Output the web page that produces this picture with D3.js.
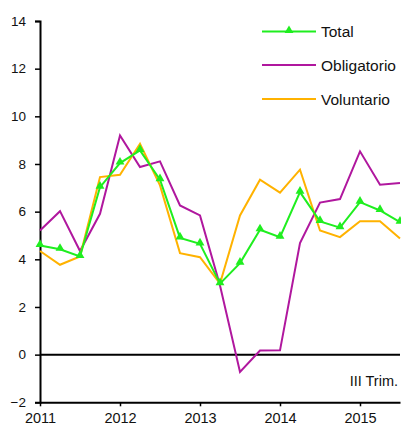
<!DOCTYPE html>
<html>
<head>
<meta charset="utf-8">
<script src="https://cdn.jsdelivr.net/npm/d3@7"></script>
<style>
  html, body { margin: 0; padding: 0; background: #fff; }
  svg { display: block; font-family: "Liberation Sans", Arial, sans-serif; }
</style>
</head>
<body>
<svg id="chart" width="401" height="428"></svg>
<script>
// ---- data ----
const quarters = d3.range(19).map(i => 2011 + i * 0.25);
const total = [4.58, 4.42, 4.12, 7.03, 8.04, 8.57, 7.34, 4.9, 4.65, 2.98, 3.84, 5.24, 4.93, 6.82, 5.59, 5.33, 6.4, 6.05, 5.56];
const obligatorio = [5.21, 6.02, 4.35, 5.91, 9.2, 7.87, 8.11, 6.26, 5.84, 2.9, -0.73, 0.17, 0.18, 4.68, 6.38, 6.53, 8.53, 7.13, 7.2];
const voluntario = [4.35, 3.77, 4.12, 7.45, 7.55, 8.85, 7.1, 4.26, 4.09, 2.98, 5.84, 7.34, 6.8, 7.76, 5.21, 4.93, 5.6, 5.6, 4.87];
const yTicks = [-2, 0, 2, 4, 6, 8, 10, 12, 14];
const yearTicks = [2011, 2012, 2013, 2014, 2015];
const seriesNames = ["Total", "Obligatorio", "Voluntario"];
const note = "III Trim.";

const colors = { Total: "#1fee1f", Obligatorio: "#b0179e", Voluntario: "#ffb200" };
const series = [
  { name: "Obligatorio", values: obligatorio },
  { name: "Voluntario", values: voluntario },
  { name: "Total", values: total }
];

const svg = d3.select("#chart");
const x = d3.scaleLinear().domain([2011, 2015.5]).range([40, 400]);
const y = d3.scaleLinear().domain([-2, 14]).range([402.3, 21]);

// y axis
const yAxis = d3.axisLeft(y).tickValues(yTicks).tickSize(5).tickPadding(9).tickFormat(d3.format("d"));
const gy = svg.append("g").attr("transform", `translate(${x(2011)},0)`).call(yAxis);
gy.select(".domain").attr("stroke", "#000").attr("stroke-width", 2);
gy.selectAll(".tick line").attr("stroke", "#000").attr("stroke-width", 1.5);
gy.selectAll(".tick text").attr("font-size", 13.5).attr("fill", "#111");

// x axis
const xAxis = d3.axisBottom(x).tickValues(yearTicks).tickSize(4).tickSizeOuter(0).tickPadding(6).tickFormat(d3.format("d"));
const gx = svg.append("g").attr("transform", `translate(0,${y(-2)})`).call(xAxis);
gx.select(".domain").attr("stroke", "#000").attr("stroke-width", 2);
gx.selectAll(".tick line").attr("stroke", "#000").attr("stroke-width", 1.5);
gx.selectAll(".tick text").attr("font-size", 14.5).attr("fill", "#111");

// zero line
svg.append("line")
  .attr("x1", x(2011)).attr("x2", x(2015.5))
  .attr("y1", y(0)).attr("y2", y(0))
  .attr("stroke", "#000").attr("stroke-width", 2);

// lines
const line = d3.line().x((d, i) => x(quarters[i])).y(d => y(d));
series.forEach(s => {
  svg.append("path")
    .datum(s.values)
    .attr("fill", "none")
    .attr("stroke", colors[s.name])
    .attr("stroke-width", 2)
    .attr("stroke-linejoin", "miter")
    .attr("d", line);
});

// triangle markers for Total
const tri = d3.symbol().type(d3.symbolTriangle).size(34);
svg.append("g").selectAll("path")
  .data(total)
  .join("path")
  .attr("d", tri)
  .attr("fill", colors.Total)
  .attr("transform", (d, i) => `translate(${x(quarters[i])},${y(d) - 1})`);

// legend
const legendY = [31.5, 65, 99];
seriesNames.forEach((name, i) => {
  const g = svg.append("g").attr("transform", `translate(0,${legendY[i]})`);
  g.append("line").attr("x1", 262).attr("x2", 316).attr("y1", 0).attr("y2", 0)
    .attr("stroke", colors[name]).attr("stroke-width", 2);
  if (name === "Total") {
    g.append("path").attr("d", tri).attr("fill", colors.Total).attr("transform", "translate(289,-1)");
  }
  g.append("text").attr("x", 321).attr("y", 5.5).attr("font-size", 15.5).attr("fill", "#111").text(name);
});

// note
svg.append("text").attr("x", 398).attr("y", 386).attr("text-anchor", "end")
  .attr("font-size", 14.5).attr("fill", "#111").text(note);
</script>
</body>
</html>
